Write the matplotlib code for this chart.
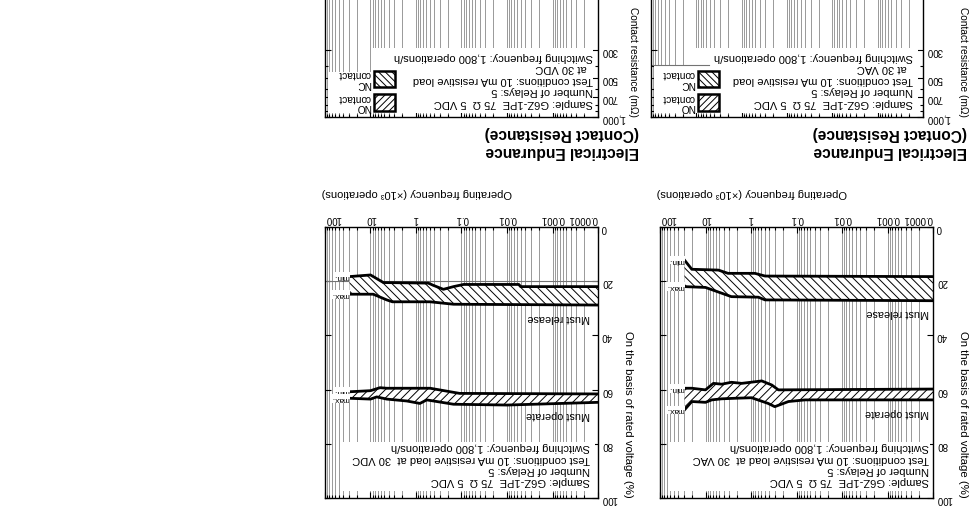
import numpy as np
import matplotlib
matplotlib.use('Agg')
import matplotlib.pyplot as plt
from matplotlib import ticker, transforms
from matplotlib.patches import Rectangle

plt.rcParams['font.family'] = ['Liberation Sans', 'DejaVu Sans']
plt.rcParams['hatch.linewidth'] = 0.7

# x axis: operating frequency (x10^3 operations)
freq_ticks = [0.0001, 0.001, 0.01, 0.1, 1, 10, 100]
freq_labels = ['0.0001', '0.001', '0.01', '0.1', '1', '10', '100']
volt_ticks = [0, 20, 40, 60, 80, 100]
volt_labels = ['0', '20', '40', '60', '80', '100']
cr_ticks = [300, 500, 700, 1000]
cr_labels = ['300', '500', '700', '1,000']

# left chart: 10 mA resistive load at 30 VDC
dc_release_min_x = [0.0001, 0.005, 0.0055, 0.09, 0.15, 0.25, 0.42, 0.54, 5.2, 10, 29]
dc_release_min_y = [22.0, 22.0, 21.2, 21.2, 22.0, 23.0, 21.5, 20.7, 20.5, 17.7, 18.3]
dc_release_max_x = [0.0001, 0.15, 0.49, 3.3, 4.4, 8.7, 29]
dc_release_max_y = [28.8, 28.5, 27.6, 27.6, 26.9, 24.8, 24.8]
dc_operate_min_x = [0.0001, 0.11, 0.49, 4.4, 6.2, 10, 29]
dc_operate_min_y = [61.6, 61.4, 59.5, 59.5, 59.3, 60.4, 60.8]
dc_operate_max_x = [0.0001, 0.01, 0.15, 0.58, 0.82, 1.6, 4.4, 7.3, 10, 29]
dc_operate_max_y = [64.7, 65.7, 65.4, 63.8, 65.1, 64.2, 63.5, 62.7, 63.5, 63.2]

# right chart: 10 mA resistive load at 30 VAC
ac_release_min_x = [0.0001, 0.49, 0.82, 3.2, 5.2, 20, 29]
ac_release_min_y = [18.3, 18.1, 17.1, 17.1, 15.9, 15.6, 12.2]
ac_release_max_x = [0.0001, 0.49, 0.69, 2.7, 10, 29]
ac_release_max_y = [27.2, 26.9, 25.9, 25.7, 22.3, 22.0]
ac_operate_min_x = [0.0001, 0.25, 0.35, 0.58, 1.6, 2.7, 4.4, 6.7, 10, 20, 29]
ac_operate_min_y = [59.8, 60.1, 58.3, 56.8, 57.7, 57.3, 58.0, 57.7, 60.1, 59.5, 59.5]
ac_operate_max_x = [0.0001, 0.065, 0.15, 0.3, 0.42, 0.97, 2.25, 4.4, 7.3, 10, 20, 29]
ac_operate_max_y = [63.8, 63.8, 64.4, 66.3, 65.1, 63.0, 63.2, 63.4, 63.8, 64.7, 64.4, 67.5]

loads = ['30 VDC', '30 VAC']

# the whole page is printed upside down, so every text is turned 180 degrees
ROT = 180


def setup_axes(ax, ylim, yscale, yticks, ylabels, labeltop=True):
    ax.set_xscale('log')
    ax.set_xlim(100, 0.0001)
    ax.set_yscale(yscale)
    ax.set_ylim(*ylim)
    ax.xaxis.set_major_locator(ticker.FixedLocator(freq_ticks))
    ax.xaxis.set_major_formatter(ticker.FixedFormatter(freq_labels))
    ax.xaxis.set_minor_locator(ticker.LogLocator(base=10, subs=np.arange(2, 10), numticks=30))
    ax.xaxis.set_minor_formatter(ticker.NullFormatter())
    ax.yaxis.set_major_locator(ticker.FixedLocator(yticks))
    ax.yaxis.set_major_formatter(ticker.FixedFormatter(ylabels))
    if yscale == 'log':
        ax.yaxis.set_minor_locator(ticker.FixedLocator([400, 600, 800, 900]))
        ax.yaxis.set_minor_formatter(ticker.NullFormatter())
    else:
        ax.yaxis.set_minor_locator(ticker.NullLocator())
    ax.grid(True, which='both', axis='x', color='0.6', lw=0.7)
    ax.set_axisbelow(True)
    ax.tick_params(which='both', direction='in', top=True, bottom=True, left=True, right=True,
                   labeltop=labeltop, labelbottom=False, labelleft=False, labelright=True,
                   labelrotation=ROT, labelsize=7, width=0.8)
    ax.tick_params(which='major', length=4, pad=2.5)
    ax.tick_params(which='minor', length=2.5)
    for s in ax.spines.values():
        s.set_linewidth(1.0)
    if labeltop:
        labels = ax.get_xticklabels()
        labels[0].set_ha('right')
        labels[-1].set_ha('left')


def band(ax, xmin, ymin, xmax, ymax, hatch):
    xs = np.concatenate([xmin, xmax[::-1]])
    ys = np.concatenate([ymin, ymax[::-1]])
    ax.fill(xs, ys, facecolor='white', edgecolor='black', hatch=hatch, lw=0, zorder=2)
    ax.plot(xmin, ymin, color='black', lw=2, zorder=3)
    ax.plot(xmax, ymax, color='black', lw=2, zorder=3)
    ax.text(xmin[-1], ymin[-1], 'min.', rotation=ROT, ha='right', va='center', fontsize=6,
            zorder=4, bbox=dict(facecolor='white', edgecolor='none', pad=0.6))
    ax.text(xmax[-1], ymax[-1], 'max.', rotation=ROT, ha='right', va='center', fontsize=6,
            zorder=4, bbox=dict(facecolor='white', edgecolor='none', pad=0.6))


def voltage_panel(ax, rel, op, load, inset, box_x0, ref_line=None):
    setup_axes(ax, (100, 0), 'linear', volt_ticks, volt_labels)
    if ref_line is not None:
        ax.axhline(ref_line, color='0.45', lw=0.8, zorder=1.5)
    band(ax, *rel, hatch='\\\\\\\\')
    band(ax, *op, hatch='////')
    blend = transforms.blended_transform_factory(ax.transAxes, ax.transData)
    ax.text(inset, rel[3][0] + 4.7, 'Must release', rotation=ROT, ha='right', va='center',
            fontsize=7.8, transform=blend, zorder=4)
    ax.text(inset, op[3][0] + 4.7, 'Must operate', rotation=ROT, ha='right', va='center',
            fontsize=7.8, transform=blend, zorder=4)
    ax.add_patch(Rectangle((box_x0, 0.025), 0.99 - box_x0, 0.18, transform=ax.transAxes,
                           facecolor='white', edgecolor='none', zorder=1))
    info = ('Sample: G6Z-1PE  75 \u03a9  5 VDC\nNumber of Relays: 5\n'
            'Test conditions: 10 mA resistive load at  ' + load + '\n'
            'Switching frequency: 1,800 operations/h')
    ax.text(inset, 87.5, info, rotation=ROT, ha='right', va='center', multialignment='left',
            linespacing=1.15, fontsize=8, transform=blend, zorder=4)
    ax.text(-0.011, 1.125, 'Operating frequency (\u00d710\u00b3 operations)', rotation=ROT,
            ha='left', va='center', fontsize=8, transform=ax.transAxes)
    ax.text(1.11, 0.0, 'On the basis of rated voltage (%)', rotation=270, ha='center',
            va='bottom', fontsize=8.2, transform=ax.transAxes)


def cr_panel(ax, load, inset, legend_x, legend_w, label_x, legend_top, edge_line=False):
    setup_axes(ax, (1000, 10), 'log', cr_ticks, cr_labels, labeltop=False)
    ax.add_patch(Rectangle((legend_x - 0.01, 0.016), 0.99 - legend_x, 0.254, transform=ax.transAxes,
                           facecolor='white', edgecolor='none', zorder=1))
    ax.add_patch(Rectangle((0.01, 0.016), legend_x, legend_top - 0.016, transform=ax.transAxes,
                           facecolor='white', edgecolor='none', zorder=1))
    if edge_line:
        ax.plot([0, legend_x + 0.04], [legend_top, legend_top], color='0.45', lw=0.8,
                transform=ax.transAxes, zorder=1.5)
    info = ('Sample: G6Z-1PE  75 \u03a9  5 VDC\nNumber of Relays: 5\n'
            'Test conditions: 10 mA resistive load\n  at ' + load + '\n'
            'Switching frequency: 1,800 operations/h')
    ax.text(inset, 0.146, info, rotation=ROT, ha='right', va='center', multialignment='left',
            linespacing=1.18, fontsize=8, transform=ax.transAxes, zorder=4)
    for y0, hatch, name in [(0.025, '/////', 'NO\ncontact'), (0.116, '\\\\\\\\\\', 'NC\ncontact')]:
        ax.add_patch(Rectangle((legend_x, y0), legend_w, 0.064, transform=ax.transAxes,
                               facecolor='white', edgecolor='black', hatch=hatch, lw=1.8, zorder=4))
        ax.text(legend_x - 0.012, y0 + 0.032, name, rotation=ROT, ha='right', va='center',
                multialignment='left', linespacing=0.95, fontsize=7.3, transform=ax.transAxes,
                zorder=4)
    ax.text(label_x, 0.0, 'Contact resistance (m\u03a9)', rotation=270, ha='center', va='bottom',
            fontsize=7.3, transform=ax.transAxes)


fig = plt.figure(figsize=(9.7, 5.09), dpi=100)

W, H = 970.0, 509.0


def px_axes(x0, x1, ytop, ybot):
    # positions measured on the printed (upside down) page, in pixels
    return fig.add_axes([x0 / W, (H - ybot) / H, (x1 - x0) / W, (ybot - ytop) / H])


ax_dc = px_axes(325, 598, 227, 498)
ax_ac = px_axes(660, 933, 227, 498)
ax_cr_dc = px_axes(325, 598, -139, 117)
ax_cr_ac = px_axes(651, 923, -139, 117)

voltage_panel(ax_dc,
              (dc_release_min_x, dc_release_min_y, dc_release_max_x, dc_release_max_y),
              (dc_operate_min_x, dc_operate_min_y, dc_operate_max_x, dc_operate_max_y),
              loads[0], 0.972, 0.066, ref_line=20)
voltage_panel(ax_ac,
              (ac_release_min_x, ac_release_min_y, ac_release_max_x, ac_release_max_y),
              (ac_operate_min_x, ac_operate_min_y, ac_operate_max_x, ac_operate_max_y),
              loads[1], 0.986, 0.037)

cr_panel(ax_cr_dc, loads[0], 0.983, 0.18, 0.075, 1.128, 0.176)
cr_panel(ax_cr_ac, loads[1], 0.963, 0.174, 0.076, 1.147, 0.203, edge_line=True)

for x in [639, 967]:
    fig.text(x / W, (H - 142.5) / H, 'Electrical Endurance\n(Contact Resistance)', rotation=ROT,
             ha='right', va='center', multialignment='left', fontsize=11.2, fontweight='bold',
             linespacing=1.3)

fig.savefig('out.png', dpi=100, facecolor='white')
